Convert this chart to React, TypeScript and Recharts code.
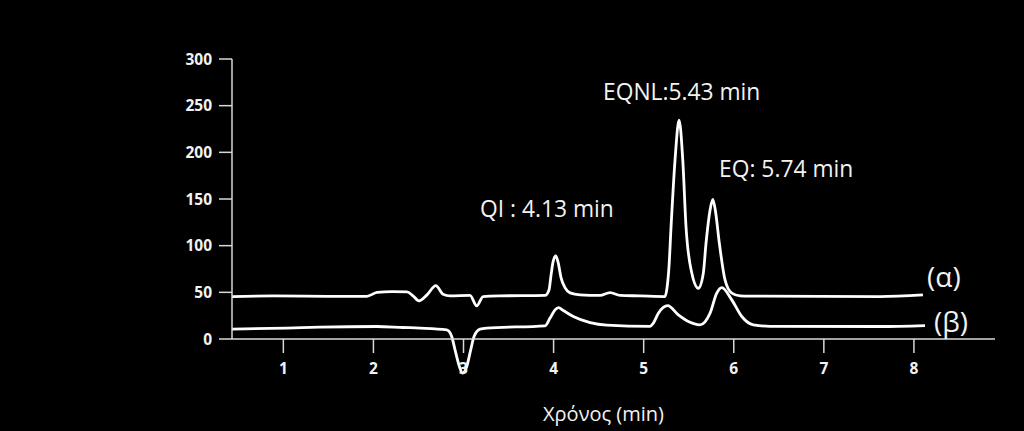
import React from 'react';
import { LineChart, Line, XAxis, YAxis, ReferenceDot } from 'recharts';

// Trace (α): retention time (min) and detector signal
const alphaTime = [
  0.43, 0.885, 1.518, 1.926, 2.04, 2.206, 2.373, 2.44, 2.506, 2.595, 2.692, 2.773, 2.85,
  3.072, 3.147, 3.217, 3.405, 3.905, 3.949, 3.972, 3.994, 4.024, 4.049, 4.083, 4.128,
  4.183, 4.294, 4.515, 4.627, 4.738, 4.96, 5.237, 5.256, 5.281, 5.304, 5.348, 5.393,
  5.434, 5.47, 5.534, 5.607, 5.662, 5.692, 5.737, 5.767, 5.795, 5.84, 5.903, 5.978,
  6.07, 6.18, 7.624, 8.1,
];
const alphaSignal = [
  45.5, 46.2, 45.7, 45.7, 49.9, 50.8, 50.5, 46.2, 40.9, 47.3, 57.2, 48.0, 46.2,
  46.7, 35.5, 45.5, 46.2, 46.7, 52.6, 68.7, 82.6, 89.0, 82.6, 65.5, 54.8,
  49.4, 47.3, 46.7, 49.7, 46.7, 46.2, 45.5, 52.6, 77.5, 120.3, 191.7, 234.4,
  191.7, 120.3, 70.8, 54.4, 70.5, 102.6, 138.3, 149.6, 138.3, 102.6, 63.3, 49.1,
  46.2, 45.9, 45.5, 47.3,
];

// Trace (β)
const betaTime = [
  0.43, 1.038, 1.407, 2.037, 2.329, 2.517, 2.814, 2.869, 2.906, 2.954, 2.991, 3.036,
  3.08, 3.117, 3.183, 3.258, 3.905, 3.961, 4.016, 4.053, 4.108, 4.219, 4.405, 4.59,
  5.071, 5.104, 5.163, 5.267, 5.385, 5.496, 5.626, 5.737, 5.811, 5.867, 5.978, 6.089,
  6.217, 6.403, 7.624, 8.123,
];
const betaSignal = [
  10.6, 11.7, 12.7, 13.4, 12.3, 11.7, 9.8, 2.7, -11.6, -29.4, -36.5, -29.4,
  -11.6, 2.7, 10.6, 11.7, 14.1, 22.4, 31.2, 33.7, 30.5, 24.1, 17.6, 14.9,
  13.6, 16.5, 27.7, 35.8, 25.9, 18.7, 15.2, 27.7, 49.1, 55.1, 41.9, 24.1,
  15.2, 13.6, 13.4, 14.4,
];

const xTicks = [1, 2, 3, 4, 5, 6, 7, 8];
const yTicks = [0, 50, 100, 150, 200, 250, 300];
const xDomain = [0.43, 8.9];
const yDomain = [0, 300];

const peakLabels = ['QI : 4.13 min', 'EQNL:5.43 min', 'EQ: 5.74 min'];
const peakLabelTime = [3.183, 4.549, 5.837];
const peakLabelSignal = [130.4, 256.6, 173.8];

const traceLabels = ['(α)', '(β)'];
const traceLabelTime = [8.146, 8.223];
const traceLabelSignal = [55.8, 7.7];

const xAxisTitle = 'Χρόνος (min)';

const alphaData = alphaTime.map((t, i) => ({ t, v: alphaSignal[i] }));
const betaData = betaTime.map((t, i) => ({ t, v: betaSignal[i] }));

const FONT = "'Open Sans', sans-serif";
const AXIS = '#d8d8d8';
const TEXT = '#f2f2f2';

const makeLabel = (text: string, size: number) => (props: any) => {
  const vb = props.viewBox || {};
  return (
    <text x={vb.x} y={vb.y} fill={TEXT} fontSize={size} fontFamily={FONT}>
      {text}
    </text>
  );
};

const xTitle = (props: any) => {
  const vb = props.viewBox || {};
  return (
    <text
      x={vb.x + vb.width / 2 - 10}
      y={vb.y + vb.height - 10}
      fill={TEXT}
      fontSize={20}
      fontFamily={FONT}
      textAnchor="middle"
    >
      {xAxisTitle}
    </text>
  );
};

export default function App() {
  return (
    <div style={{ position: 'fixed', left: 0, top: 0, width: 1024, height: 431, background: '#000' }}>
      <style>{`.recharts-line g, .recharts-line path { clip-path: none !important; }`}</style>
      <LineChart
        width={1024}
        height={431}
        margin={{ top: 59, right: 29, bottom: 0, left: 172 }}
        style={{ background: '#000' }}
      >
        <XAxis
          type="number"
          dataKey="t"
          domain={xDomain}
          ticks={xTicks}
          allowDataOverflow
          height={92}
          tickSize={14}
          tickMargin={10}
          axisLine={{ stroke: AXIS, strokeWidth: 1.5 }}
          tickLine={{ stroke: AXIS, strokeWidth: 1.5 }}
          tick={{ fill: TEXT, fontSize: 15.5, fontWeight: 700, fontFamily: FONT }}
        label={{ content: xTitle }}
        />
        <YAxis
          type="number"
          domain={yDomain}
          ticks={yTicks}
          allowDataOverflow
          width={60}
          tickSize={13}
          tickMargin={7}
          axisLine={{ stroke: AXIS, strokeWidth: 1.5 }}
          tickLine={{ stroke: AXIS, strokeWidth: 1.5 }}
          tick={{ fill: TEXT, fontSize: 15.5, fontWeight: 700, fontFamily: FONT }}
        />
        <Line
          data={alphaData}
          dataKey="v"
          type="monotone"
          stroke="#ffffff"
          strokeWidth={2.8}
          dot={false}
          isAnimationActive={false}
        />
        <Line
          data={betaData}
          dataKey="v"
          type="monotone"
          stroke="#ffffff"
          strokeWidth={2.8}
          dot={false}
          isAnimationActive={false}
        />
        {peakLabels.map((txt, i) => (
          <ReferenceDot
            key={txt}
            x={peakLabelTime[i]}
            y={peakLabelSignal[i]}
            r={0}
            fill="none"
            stroke="none"
            ifOverflow="visible"
            label={makeLabel(txt, 22.8)}
          />
        ))}
        {traceLabels.map((txt, i) => (
          <ReferenceDot
            key={txt}
            x={traceLabelTime[i]}
            y={traceLabelSignal[i]}
            r={0}
            fill="none"
            stroke="none"
            ifOverflow="visible"
            label={makeLabel(txt, 28)}
          />
        ))}
      </LineChart>
    </div>
  );
}
